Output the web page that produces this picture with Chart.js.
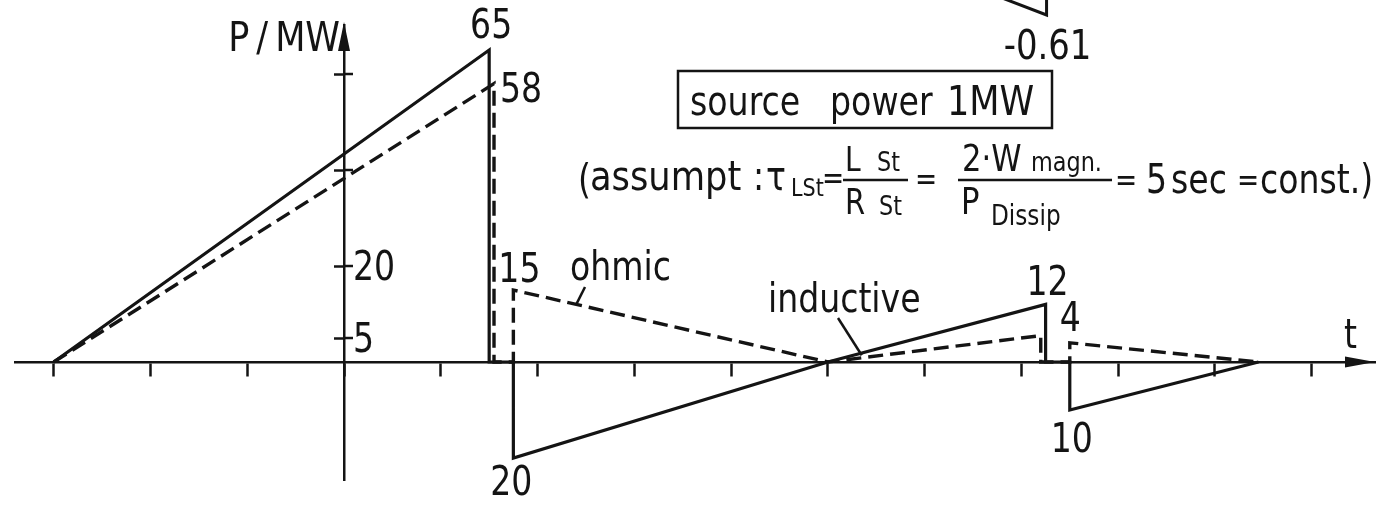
<!DOCTYPE html>
<html>
<head>
<meta charset="utf-8">
<script src="https://cdn.jsdelivr.net/npm/chart.js@4.4.1/dist/chart.umd.min.js"></script>
<style>
  html, body { margin: 0; padding: 0; background: #fff; }
  #wrap { width: 1390px; height: 514px; }
</style>
</head>
<body>
<div id="wrap"><canvas id="myChart"></canvas></div>
<script>
// time in tick units (y axis at t = 0), power in MW
const timeTicks = [-3, -2, -1, 0, 1, 2, 3, 4, 5, 6, 7, 8, 9, 10];
const powerTicks = [5, 20, 40, 60];
const powerTickLabels = ['5', '20', '', ''];

// total power of the store (solid)
const solidT = [-3, 1.5, 1.5, 1.75, 1.75, 5, 7.25, 7.25, 7.5, 7.5, 9.45];
const solidP = [0, 65, 0, 0, -20, 0, 12, 0, 0, -10, 0];

// ohmic part (dashed)
const dashT = [-3, 1.55, 1.55, 1.75, 1.75, 5, 7.2, 7.2, 7.5, 7.5, 9.45];
const dashP = [0, 58, 0, 0, 15, 0, 5.5, 0, 0, 4, 0];

// corner of the plot above that reaches into this one
const upperT = [6.78, 7.26, 7.26];
const upperP = [76, 72.3, 76];

const ink = '#141414';
const FONT = '"DejaVu Sans Condensed", "DejaVu Sans", sans-serif';

const toPoints = (ts, ps) => ts.map((t, i) => ({ x: t, y: ps[i] }));

// labels that state a value of the curves: [series, index, dx, dy, align]
const valueNotes = [
  ['solid', 1, 2, -12, 'center'],
  ['dash', 1, 6, 18, 'left'],
  ['dash', 4, -15, -8, 'left'],
  ['solid', 4, -2, 37, 'center'],
  ['solid', 6, 2, -9, 'center'],
  ['dash', 9, -10, -12, 'left'],
  ['solid', 9, 2, 42, 'center']
];

function put(ctx, str, x, y, size, align, sx) {
  ctx.save();
  ctx.font = size + 'px ' + FONT;
  ctx.textBaseline = 'alphabetic';
  ctx.textAlign = align || 'left';
  ctx.translate(x, y);
  ctx.scale(sx || 0.92, 1);
  ctx.fillText(str, 0, 0);
  ctx.restore();
}

function line(ctx, x1, y1, x2, y2, w) {
  ctx.beginPath();
  ctx.lineWidth = w || 2.5;
  ctx.moveTo(x1, y1);
  ctx.lineTo(x2, y2);
  ctx.stroke();
}

const sketch = {
  id: 'sketch',
  afterDraw(chart) {
    const ctx = chart.ctx;
    const xs = chart.scales.x, ys = chart.scales.y;
    const x0 = xs.getPixelForValue(0), y0 = ys.getPixelForValue(0);
    const area = chart.chartArea;
    ctx.save();
    ctx.fillStyle = ink;
    ctx.strokeStyle = ink;
    ctx.lineCap = 'butt';

    // arrow heads
    ctx.beginPath();
    ctx.moveTo(area.right, y0);
    ctx.lineTo(area.right - 30, y0 - 5.5);
    ctx.lineTo(area.right - 30, y0 + 5.5);
    ctx.closePath();
    ctx.fill();
    ctx.beginPath();
    ctx.moveTo(x0, area.top - 3);
    ctx.lineTo(x0 - 6, area.top + 26);
    ctx.lineTo(x0 + 6, area.top + 26);
    ctx.closePath();
    ctx.fill();

    // y ticks cross the axis, labels to the right
    ys.ticks.forEach((tk, i) => {
      const py = ys.getPixelForValue(tk.value);
      line(ctx, x0, py, x0 + 9, py, 2.5);
      if (powerTickLabels[i]) put(ctx, powerTickLabels[i], x0 + 9, py + 14, 40);
    });

    put(ctx, 'P\u2009/\u2009MW', x0 - 4, 51, 41, 'right', 0.95);
    put(ctx, 't', xs.getPixelForValue(10.4), y0 - 14, 40, 'center');

    // value labels
    valueNotes.forEach(([s, i, dx, dy, align]) => {
      const t = s === 'solid' ? solidT[i] : dashT[i];
      const p = s === 'solid' ? solidP[i] : dashP[i];
      put(ctx, String(Math.abs(p)), xs.getPixelForValue(t) + dx, ys.getPixelForValue(p) + dy, 40, align);
    });
    put(ctx, '-0.61', xs.getPixelForValue(upperT[1]) + 1, ys.getPixelForValue(upperP[1]) + 44, 41, 'center');

    // curve names with leaders
    put(ctx, 'ohmic', 570, 280, 40);
    line(ctx, 585, 287, xs.getPixelForValue(2.4), ys.getPixelForValue(12), 2.5);
    put(ctx, 'inductive', 768, 312, 40);
    line(ctx, 838, 318, xs.getPixelForValue(5.35), ys.getPixelForValue(1.4), 2.5);

    // boxed note
    ctx.lineWidth = 2.5;
    ctx.strokeRect(678, 71, 374, 57);
    put(ctx, 'source', 690, 115, 41, 'left', 0.9);
    put(ctx, 'power', 830, 115, 41, 'left', 0.9);
    put(ctx, '1MW', 947, 115, 41, 'left', 0.95);

    // time constant of the store
    put(ctx, '(', 578, 193, 40);
    put(ctx, 'assumpt', 590, 190, 40, 'left', 0.98);
    put(ctx, ':', 753, 190, 40);
    put(ctx, '\u03c4', 766, 190, 40);
    put(ctx, 'LSt', 791, 196, 25);
    put(ctx, '=', 822, 189, 32);
    put(ctx, 'L', 845, 171, 34);
    put(ctx, 'St', 877, 171, 27);
    line(ctx, 843, 180, 908, 180, 2.5);
    put(ctx, 'R', 845, 214, 35);
    put(ctx, 'St', 879, 215, 27);
    put(ctx, '=', 915, 190, 32);
    put(ctx, '2\u00b7W', 962, 171, 37);
    put(ctx, 'magn.', 1031, 171, 27);
    line(ctx, 958, 180, 1112, 180, 2.5);
    put(ctx, 'P', 961, 214, 37);
    put(ctx, 'Dissip', 991, 225, 28);
    put(ctx, '=', 1115, 191, 32);
    put(ctx, '5', 1146, 193, 40);
    put(ctx, 'sec', 1171, 193, 40);
    put(ctx, '=', 1237, 191, 32);
    put(ctx, 'const.)', 1260, 193, 40);

    ctx.restore();
  }
};

const data = {
  datasets: [
    {
      label: 'total',
      data: toPoints(solidT, solidP),
      borderColor: ink,
      borderWidth: 3.2,
      pointRadius: 0,
      tension: 0
    },
    {
      label: 'ohmic',
      data: toPoints(dashT, dashP),
      borderColor: ink,
      borderWidth: 3.4,
      borderDash: [15, 7],
      pointRadius: 0,
      tension: 0
    },
    {
      label: 'upper',
      data: toPoints(upperT, upperP),
      borderColor: ink,
      borderWidth: 3,
      pointRadius: 0,
      tension: 0,
      clip: false
    }
  ]
};

const config = {
  type: 'line',
  data: data,
  options: {
    responsive: true,
    maintainAspectRatio: false,
    animation: false,
    events: [],
    layout: { padding: { left: 15, right: 15, top: 25, bottom: 34 } },
    plugins: {
      legend: { display: false },
      tooltip: { enabled: false }
    },
    scales: {
      x: {
        type: 'linear',
        min: -3.4,
        max: 10.654,
        position: { y: 0 },
        afterBuildTicks: s => { s.ticks = timeTicks.map(v => ({ value: v })); },
        ticks: { display: false },
        grid: { drawOnChartArea: false, drawTicks: true, tickLength: 13, tickWidth: 2.5, tickColor: ink },
        border: { display: true, color: ink, width: 2.5 }
      },
      y: {
        type: 'linear',
        min: -24.58,
        max: 70.21,
        position: { x: 0 },
        afterBuildTicks: s => { s.ticks = powerTicks.map(v => ({ value: v })); },
        ticks: { display: false },
        grid: { drawOnChartArea: false, drawTicks: true, tickLength: 9, tickWidth: 2.5, tickColor: ink },
        border: { display: true, color: ink, width: 2.5 }
      }
    }
  },
  plugins: [sketch]
};

const myChart = new Chart(document.getElementById('myChart'), config);
</script>
</body>
</html>
